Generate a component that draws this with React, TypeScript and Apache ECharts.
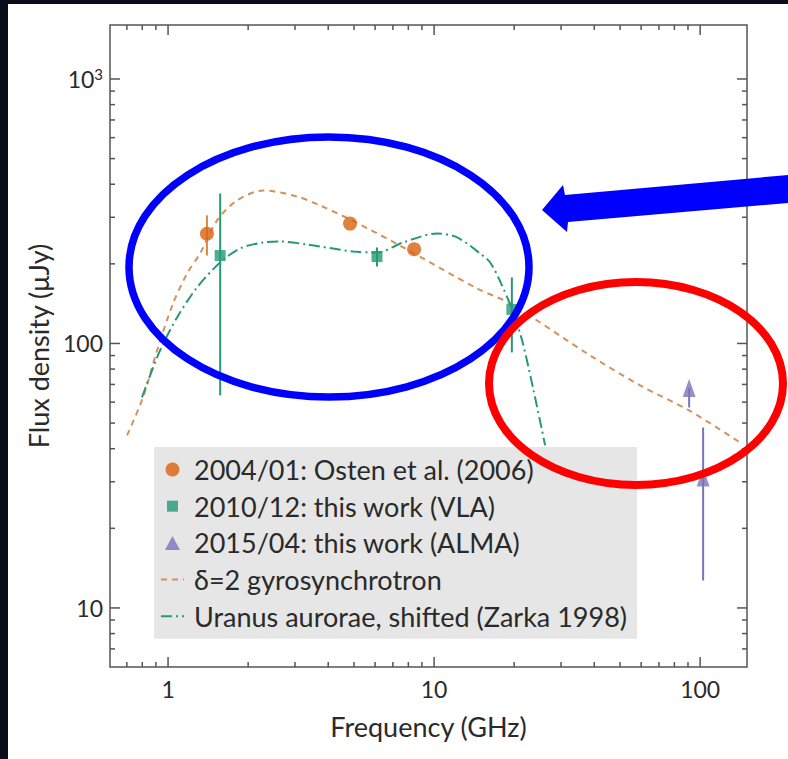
import React, { useEffect, useRef } from "react";
import * as echarts from "echarts";

const X_MIN = 0.605;
const X_MAX = 150;
const Y_MIN = 5.98;
const Y_MAX = 1600;

// Observations [frequency GHz, flux µJy]
const ostenPoints = [
  [1.4, 260],
  [4.83, 284],
  [8.41, 227],
];
const ostenErrors = [[1.4, 215, 305]];

const vlaPoints = [
  [1.57, 215],
  [6.1, 213],
  [19.6, 134.5],
];
const vlaErrors = [
  [1.57, 63.6, 369],
  [6.1, 195.5, 230.7],
  [19.6, 92.5, 177.6],
];

const almaPoints = [
  [90.9, 67.9],
  [102.6, 31.1],
];
const almaErrors = [
  [90.9, 57.3, 67.9],
  [102.6, 12.7, 48.1],
];

// Model curves
const gyroCurve = [
  [0.701, 44.9], [0.805, 62.5], [0.909, 94.1], [1.044, 141.6], [1.179, 183.9],
  [1.319, 218.9], [1.528, 291.9], [1.817, 347.2], [2.276, 378.8], [3.055, 359.5],
  [3.727, 332.4], [4.833, 294.3], [7.32, 236.7], [14.51, 161.4], [19.31, 141.6],
  [38.6, 90.1], [59.5, 69.4], [90.9, 55.8], [141.4, 42.2],
];
const uranusCurve = [
  [0.798, 62.5], [0.834, 70.6], [0.933, 94.1], [1.081, 125.4], [1.285, 162.8],
  [1.569, 202.4], [1.865, 228.7], [2.276, 240.9], [2.637, 243.0], [3.331, 236.7],
  [4.96, 222.7], [6.105, 220.8], [7.646, 240.9], [10.26, 260.5], [12.21, 251.7],
  [14.89, 218.9], [16.24, 202.4], [17.71, 171.6], [19.64, 134.5], [21.42, 102.6],
  [23.56, 67.6], [26.14, 41.2],
];

// Axis ticks
const xMajorTicks = [1, 10, 100];
const xMinorTicks = [0.7, 0.8, 0.9, 2, 3, 4, 5, 6, 7, 8, 9, 20, 30, 40, 50, 60, 70, 80, 90];
const yMajorTicks = [10, 100, 1000];
const yMinorTicks = [7, 8, 9, 20, 30, 40, 50, 60, 70, 80, 90, 200, 300, 400, 500, 600, 700, 800, 900];

const NAMES = [
  "2004/01: Osten et al. (2006)",
  "2010/12: this work (VLA)",
  "2015/04: this work (ALMA)",
  "δ=2 gyrosynchrotron",
  "Uranus aurorae, shifted (Zarka 1998)",
];

const FONT = "Lato";
const TEXT = "#2a2a2a";
const ORANGE = "#d9620f";
const ORANGE_LINE = "#d4925a";
const GREEN = "#249a74";
const PURPLE = "#7b75b8";
const AXIS = "#555";
const NONE = "rgba(0,0,0,0)";

function errorSeries(data: number[][], color: string) {
  return {
    type: "custom",
    silent: true,
    z: 3,
    encode: { x: 0, y: [1, 2] },
    data,
    renderItem: (_p: any, api: any) => {
      const a = api.coord([api.value(0), api.value(1)]);
      const b = api.coord([api.value(0), api.value(2)]);
      return {
        type: "line",
        shape: { x1: a[0], y1: a[1], x2: b[0], y2: b[1] },
        style: { stroke: color, lineWidth: 2 },
      };
    },
  };
}

export default function App() {
  const ref = useRef<HTMLDivElement>(null);
  useEffect(() => {
    if (!ref.current) return;
    const chart = echarts.init(ref.current, undefined, { renderer: "svg" });

    const xTickData = [
      ...xMajorTicks.map((v) => [v, Y_MIN, 1]),
      ...xMinorTicks.map((v) => [v, Y_MIN, 0]),
    ];
    const yTickData = [
      ...yMajorTicks.map((v) => [X_MIN, v, 1]),
      ...yMinorTicks.map((v) => [X_MIN, v, 0]),
    ];
    const tickStyle = { stroke: AXIS, lineWidth: 1.5 };

    const isPow = (v: number) => {
      const l = Math.log10(v);
      return Math.abs(l - Math.round(l)) < 1e-6;
    };

    chart.setOption({
      animation: false,
      backgroundColor: "#0a0c1c",
      graphic: [
        { type: "rect", z: -10, shape: { x: 8, y: 4, width: 780, height: 755 }, style: { fill: "#ffffff" } },
        {
          type: "ellipse", z: 100, silent: true,
          shape: { cx: 329, cy: 267, rx: 200, ry: 130 },
          style: { fill: "none", stroke: "#0000ff", lineWidth: 7.5 },
        },
        {
          type: "ellipse", z: 101, silent: true,
          shape: { cx: 636, cy: 383.5, rx: 147, ry: 101.5 },
          style: { fill: "none", stroke: "#ff0000", lineWidth: 8 },
        },
        {
          type: "polygon", z: 102, silent: true,
          shape: { points: [[542, 210], [563, 185], [565, 195], [788, 175], [788, 203], [568, 222], [567, 232]] },
          style: { fill: "#0000ff" },
        },
      ],
      grid: {
        left: 110, top: 25, width: 637, height: 642,
        show: true, backgroundColor: "#ffffff", borderColor: AXIS, borderWidth: 1.5,
      },
      legend: {
        orient: "vertical",
        left: 154,
        top: 447,
        backgroundColor: "#e6e6e6",
        padding: [9, 10, 9, 6],
        itemGap: 9.7,
        itemWidth: 23,
        itemHeight: 14,
        selectedMode: false,
        textStyle: { fontFamily: FONT, fontSize: 27, color: TEXT, padding: [0, 0, 0, 5], lineHeight: 27 },
        data: [
          { name: NAMES[0], icon: "circle" },
          { name: NAMES[1], icon: "path://M0,0M14,14M1.5,1.5L12.5,1.5L12.5,12.5L1.5,12.5Z" },
          { name: NAMES[2], icon: "path://M7,0L14,13L0,13Z" },
          { name: NAMES[3], itemStyle: { color: NONE, borderWidth: 0 } },
          { name: NAMES[4], itemStyle: { color: NONE, borderWidth: 0 } },
        ],
      },
      xAxis: {
        type: "log",
        logBase: 10,
        min: X_MIN,
        max: X_MAX,
        name: "Frequency (GHz)",
        nameLocation: "middle",
        nameGap: 46,
        nameTextStyle: { fontFamily: FONT, fontSize: 27, color: TEXT },
        axisLine: { show: false },
        axisTick: { show: false },
        splitLine: { show: false },
        minorSplitLine: { show: false },
        axisLabel: {
          showMinLabel: false,
          showMaxLabel: false,
          margin: 10,
          fontFamily: FONT,
          fontSize: 23,
          color: TEXT,
          formatter: (v: number) => (isPow(v) ? String(Math.round(v)) : ""),
        },
      },
      yAxis: {
        type: "log",
        logBase: 10,
        min: Y_MIN,
        max: Y_MAX,
        name: "Flux density (μJy)",
        nameLocation: "middle",
        nameGap: 51,
        nameTextStyle: { fontFamily: FONT, fontSize: 27, color: TEXT },
        axisLine: { show: false },
        axisTick: { show: false },
        splitLine: { show: false },
        axisLabel: {
          showMinLabel: false,
          showMaxLabel: false,
          margin: 7,
          fontFamily: FONT,
          fontSize: 23,
          color: TEXT,
          formatter: (v: number) => {
            if (!isPow(v)) return "";
            const p = Math.round(Math.log10(v));
            if (p >= 3) return "{a|10}{s|" + p + "}";
            return String(Math.round(v));
          },
          rich: {
            a: { fontFamily: FONT, fontSize: 23, color: TEXT },
            s: { fontFamily: FONT, fontSize: 15, color: TEXT, padding: [0, 0, 10, 0] },
          },
        },
      },
      series: [
        {
          name: NAMES[3],
          type: "line",
          data: gyroCurve,
          smooth: 0.3,
          symbol: "none",
          z: 2,
          lineStyle: { color: ORANGE_LINE, width: 2, type: [6, 5] },
          itemStyle: { color: NONE },
        },
        {
          name: NAMES[4],
          type: "line",
          data: uranusCurve,
          smooth: 0.3,
          symbol: "none",
          z: 2,
          lineStyle: { color: GREEN, width: 2, type: [11, 4, 2, 4] },
          itemStyle: { color: NONE },
        },
        errorSeries(ostenErrors, "#d98a3e"),
        errorSeries(vlaErrors, GREEN),
        errorSeries(almaErrors, PURPLE),
        {
          name: NAMES[0],
          type: "scatter",
          data: ostenPoints,
          symbol: "circle",
          symbolSize: 14,
          z: 5,
          itemStyle: { color: ORANGE },
        },
        {
          name: NAMES[1],
          type: "scatter",
          data: vlaPoints,
          symbol: "rect",
          symbolSize: 11,
          z: 5,
          itemStyle: { color: GREEN },
        },
        {
          name: NAMES[2],
          type: "scatter",
          data: almaPoints,
          symbol: "triangle",
          symbolSize: [13, 18],
          z: 5,
          itemStyle: { color: PURPLE },
        },
        {
          type: "custom",
          silent: true,
          z: 4,
          encode: { x: 0, y: 1 },
          data: xTickData,
          renderItem: (params: any, api: any) => {
            const cs = params.coordSys;
            const px = api.coord([api.value(0), Y_MIN])[0];
            const len = api.value(2) ? 10 : 5;
            const bottom = cs.y + cs.height;
            return {
              type: "group",
              children: [
                { type: "line", shape: { x1: px, y1: bottom, x2: px, y2: bottom - len }, style: tickStyle },
                { type: "line", shape: { x1: px, y1: cs.y, x2: px, y2: cs.y + len }, style: tickStyle },
              ],
            };
          },
        },
        {
          type: "custom",
          silent: true,
          z: 4,
          encode: { x: 0, y: 1 },
          data: yTickData,
          renderItem: (params: any, api: any) => {
            const cs = params.coordSys;
            const py = api.coord([X_MIN, api.value(1)])[1];
            const len = api.value(2) ? 10 : 5;
            const right = cs.x + cs.width;
            return {
              type: "group",
              children: [
                { type: "line", shape: { x1: cs.x, y1: py, x2: cs.x + len, y2: py }, style: tickStyle },
                { type: "line", shape: { x1: right, y1: py, x2: right - len, y2: py }, style: tickStyle },
              ],
            };
          },
        },
      ],
    });
    return () => chart.dispose();
  }, []);
  return (
    <div
      ref={ref}
      style={{ position: "absolute", left: 0, top: 0, width: 788, height: 759 }}
    />
  );
}
